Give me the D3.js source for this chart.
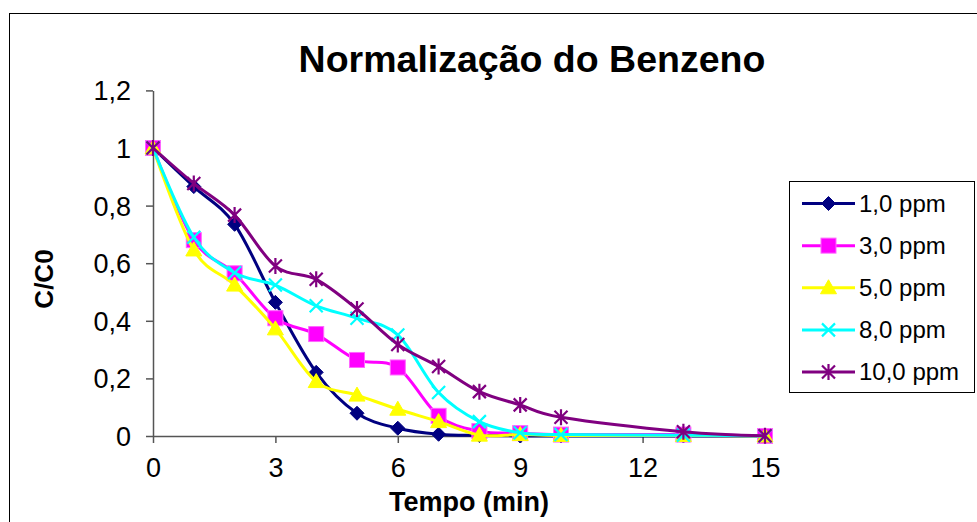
<!DOCTYPE html>
<html><head><meta charset="utf-8">
<script src="https://cdn.jsdelivr.net/npm/d3@7"></script>
<style>
html,body{margin:0;padding:0;background:#fff;}
svg{display:block;font-family:"Liberation Sans",Arial,sans-serif;}
</style></head>
<body>
<svg id="chart" width="977" height="522"></svg>
<script>
// ---- data ----
const title = "Normalização do Benzeno";
const xTitle = "Tempo (min)";
const yTitle = "C/C0";
const time = [0, 1, 2, 3, 4, 5, 6, 7, 8, 9, 10, 13, 15];
const s1ppm  = [1, 0.866, 0.735, 0.464, 0.221, 0.079, 0.027, 0.006, 0.002, 0, 0, 0, 0];
const s3ppm  = [1, 0.680, 0.565, 0.409, 0.354, 0.264, 0.238, 0.070, 0.017, 0.010, 0.005, 0.005, 0];
const s5ppm  = [1, 0.646, 0.524, 0.372, 0.189, 0.142, 0.093, 0.050, 0.003, 0.005, 0.002, 0.002, 0];
const s8ppm  = [1, 0.690, 0.567, 0.524, 0.452, 0.409, 0.351, 0.151, 0.050, 0.011, 0.005, 0.003, 0];
const s10ppm = [1, 0.877, 0.767, 0.590, 0.544, 0.441, 0.318, 0.241, 0.154, 0.108, 0.065, 0.015, 0.001];
const seriesNames = ["1,0 ppm", "3,0 ppm", "5,0 ppm", "8,0 ppm", "10,0 ppm"];
const xTicks = [0, 3, 6, 9, 12, 15];
const yTicks = [0, 0.2, 0.4, 0.6, 0.8, 1, 1.2];

const seriesValues = [s1ppm, s3ppm, s5ppm, s8ppm, s10ppm];
const colors = ["#000080", "#FF00FF", "#FFFF00", "#00FFFF", "#800080"];
const markers = ["diamond", "square", "triangle", "x", "star"];

const svg = d3.select("#chart");

// outer frame
svg.append("rect").attr("x", 9.5).attr("y", 13.5).attr("width", 990).attr("height", 600)
  .attr("fill", "none").attr("stroke", "#000").attr("stroke-width", 1);

const x = d3.scaleLinear().domain([0, 15]).range([153, 765]);
const y = d3.scaleLinear().domain([0, 1.2]).range([436, 90.4]);

const fmt = d => String(d).replace(".", ",");

// axes
const gx = svg.append("g").attr("transform", "translate(0,436)")
  .call(d3.axisBottom(x).tickValues(xTicks).tickSize(7).tickSizeOuter(0).tickFormat(fmt));
const gy = svg.append("g").attr("transform", "translate(153,0)")
  .call(d3.axisLeft(y).tickValues(yTicks).tickSize(7).tickSizeOuter(0).tickFormat(fmt));
[gx, gy].forEach(g => {
  g.select(".domain").attr("stroke", "#555").attr("stroke-width", 1.5);
  g.selectAll(".tick line").attr("stroke", "#555").attr("stroke-width", 1.5);
  g.selectAll(".tick text").attr("fill", "#000").attr("font-size", 27)
    .attr("font-family", "Liberation Sans, Arial, sans-serif");
});
gx.selectAll(".tick text").attr("y", 32).attr("dy", "0.35em");
gy.selectAll(".tick text").attr("x", -22).attr("dy", "0.35em");

// titles
svg.append("text").attr("x", 532).attr("y", 72).attr("text-anchor", "middle")
  .attr("font-size", 37.5).attr("font-weight", "bold").text(title);
svg.append("text").attr("x", 469).attr("y", 511).attr("text-anchor", "middle")
  .attr("font-size", 27).attr("font-weight", "bold").text(xTitle);
svg.append("text").attr("transform", "translate(53,279) rotate(-90)").attr("text-anchor", "middle")
  .attr("font-size", 26).attr("font-weight", "bold").text(yTitle);

// marker drawer
function drawMarker(g, type, color, cx, cy) {
  const s = 7;
  if (type === "diamond") {
    g.append("path").attr("d", `M${cx},${cy - s}L${cx + s},${cy}L${cx},${cy + s}L${cx - s},${cy}Z`)
      .attr("fill", color).attr("stroke", color);
  } else if (type === "square") {
    g.append("rect").attr("x", cx - 7.5).attr("y", cy - 7.5).attr("width", 15).attr("height", 15)
      .attr("fill", color).attr("stroke", "#ff66ff").attr("stroke-width", 1);
  } else if (type === "triangle") {
    g.append("path").attr("d", `M${cx},${cy - 8}L${cx + 8},${cy + 6}L${cx - 8},${cy + 6}Z`)
      .attr("fill", color).attr("stroke", color);
  } else if (type === "x") {
    g.append("path").attr("d", `M${cx - 6.5},${cy - 6.5}L${cx + 6.5},${cy + 6.5}M${cx - 6.5},${cy + 6.5}L${cx + 6.5},${cy - 6.5}`)
      .attr("stroke", color).attr("stroke-width", 2.2).attr("fill", "none");
  } else if (type === "star") {
    g.append("path").attr("d", `M${cx - 6.5},${cy - 6.5}L${cx + 6.5},${cy + 6.5}M${cx - 6.5},${cy + 6.5}L${cx + 6.5},${cy - 6.5}M${cx},${cy - 8}L${cx},${cy + 8}`)
      .attr("stroke", color).attr("stroke-width", 2.2).attr("fill", "none");
  }
}

const line = d3.line().x(d => x(d[0])).y(d => y(d[1])).curve(d3.curveCatmullRom.alpha(0));

seriesValues.forEach((vals, i) => {
  const g = svg.append("g");
  const pts = time.map((t, j) => [t, vals[j]]);
  g.append("path").datum(pts).attr("d", line).attr("fill", "none")
    .attr("stroke", colors[i]).attr("stroke-width", 3);
  pts.forEach(p => drawMarker(g, markers[i], colors[i], x(p[0]), y(p[1])));
});

// legend
const lg = svg.append("g");
lg.append("rect").attr("x", 789.5).attr("y", 181.5).attr("width", 185).attr("height", 211)
  .attr("fill", "#fff").attr("stroke", "#000").attr("stroke-width", 1);
const rowY = d3.scaleLinear().domain([0, 4]).range([203.5, 372]);
seriesNames.forEach((name, i) => {
  const cy = rowY(i);
  lg.append("line").attr("x1", 802).attr("x2", 855).attr("y1", cy).attr("y2", cy)
    .attr("stroke", colors[i]).attr("stroke-width", 3);
  drawMarker(lg, markers[i], colors[i], 828.5, cy);
  lg.append("text").attr("x", 859).attr("y", cy).attr("dy", "0.35em")
    .attr("font-size", 24).text(name);
});
</script>
</body></html>
